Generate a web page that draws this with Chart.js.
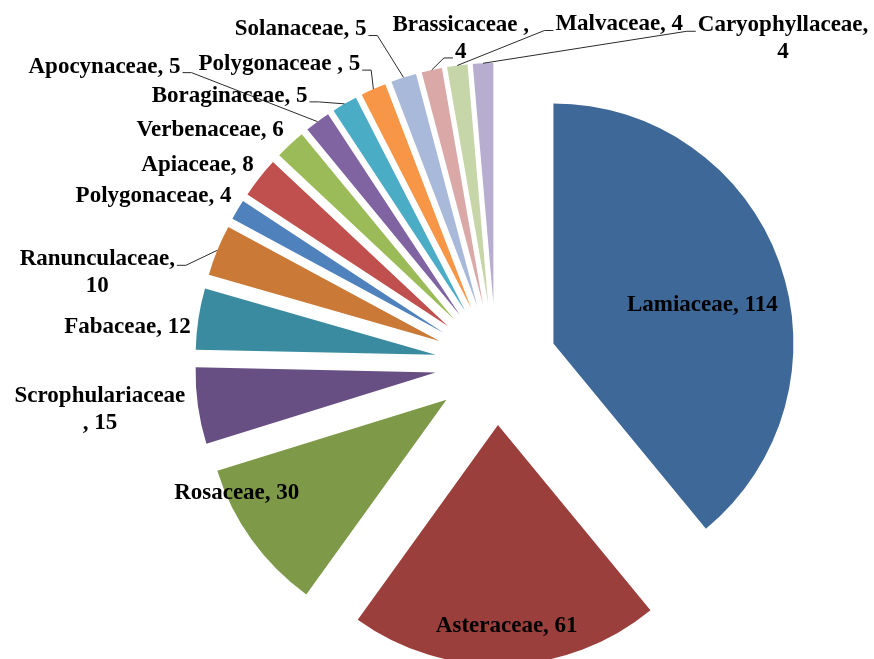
<!DOCTYPE html>
<html>
<head>
<meta charset="utf-8">
<title>Species per plant family</title>
<script src="https://cdn.jsdelivr.net/npm/chart.js@4.4.1/dist/chart.umd.min.js"></script>
<style>
  html, body { margin: 0; padding: 0; background: #ffffff; }
  canvas { display: block; }
</style>
</head>
<body>
<canvas id="chart" width="874" height="659"></canvas>
<script>
// Plant families, clockwise from 12 o'clock
const families = [
  'Lamiaceae', 'Asteraceae', 'Rosaceae', 'Scrophulariaceae', 'Fabaceae',
  'Ranunculaceae', 'Polygonaceae', 'Apiaceae', 'Verbenaceae', 'Apocynaceae',
  'Boraginaceae', 'Polygonaceae ', 'Solanaceae', 'Brassicaceae ', 'Malvaceae',
  'Caryophyllaceae'
];

// Number of species in each family
const speciesCounts = [114, 61, 30, 15, 12, 10, 4, 8, 6, 5, 5, 5, 5, 4, 4, 4];

// Office palette: dark shades, base colours, then light tints
const sliceColors = [
  '#3E6898', '#9B3F3D', '#7E9948', '#674F84', '#3B8BA0', '#CA7936',
  '#4F81BD', '#C0504D', '#9BBB59', '#8064A2', '#4BACC6', '#F79646',
  '#A9B9D9', '#D9A8A7', '#C6D6A9', '#B7ADCF'
];

// Distance every slice is pulled away from the centre (px)
const EXPLODE = 61;
const LABEL_FONT = 'bold 23px "Liberation Serif", "Times New Roman", serif';
const LINE_HEIGHT = 27;

// Label placement relative to the middle of each slice's outer arc.
// wrap: 'value' breaks before the count, 'name' breaks after the family name.
// leader: index of the text line a leader line attaches to.
const labelLayout = [
  { dx: -77,  dy: 43 },
  { dx: 1,    dy: -39 },
  { dx: -15,  dy: -47 },
  { dx: -98,  dy: -10, wrap: 'name' },
  { dx: -71,  dy: 8 },
  { dx: -120, dy: 9,   wrap: 'value', leader: 0 },
  { dx: -84,  dy: -14 },
  { dx: -62,  dy: -13 },
  { dx: -80,  dy: -14 },
  { dx: -213, dy: -55, leader: 0 },
  { dx: -115, dy: -8,  leader: 0 },
  { dx: -94,  dy: -25, leader: 0 },
  { dx: -103, dy: -48, leader: 0 },
  { dx: 29,   dy: -45, wrap: 'value', leader: 1 },
  { dx: 162,  dy: -41, leader: 0 },
  { dx: 300,  dy: -38, wrap: 'value', leader: 0 }
];

function labelLines(i, wrap) {
  const name = families[i];
  const value = String(speciesCounts[i]);
  if (wrap === 'value') return [(name + ',').trim(), value];
  if (wrap === 'name') return [name.trim(), ', ' + value];
  return [name + ', ' + value];
}

// Pull each slice outward along its bisector
const explodePlugin = {
  id: 'explodeSlices',
  beforeDatasetsDraw(chart) {
    const area = chart.chartArea;
    const cx = (area.left + area.right) / 2;
    const cy = (area.top + area.bottom) / 2;
    chart.getDatasetMeta(0).data.forEach(arc => {
      const mid = (arc.startAngle + arc.endAngle) / 2;
      arc.x = cx + EXPLODE * Math.cos(mid);
      arc.y = cy + EXPLODE * Math.sin(mid);
    });
  }
};

// "Family, count" labels with leader lines
const labelPlugin = {
  id: 'familyLabels',
  afterDatasetsDraw(chart) {
    const ctx = chart.ctx;
    const meta = chart.getDatasetMeta(0);
    ctx.save();
    ctx.font = LABEL_FONT;
    ctx.fillStyle = '#000000';
    ctx.strokeStyle = '#2b2b2b';
    ctx.lineWidth = 1;
    ctx.textAlign = 'center';
    ctx.textBaseline = 'middle';
    meta.data.forEach((arc, i) => {
      const mid = (arc.startAngle + arc.endAngle) / 2;
      const px = arc.x + arc.outerRadius * Math.cos(mid);
      const py = arc.y + arc.outerRadius * Math.sin(mid);
      const lay = labelLayout[i];
      const lines = labelLines(i, lay.wrap);
      const lx = px + lay.dx;
      const ly = py + lay.dy;
      lines.forEach((t, k) => ctx.fillText(t, lx, ly + k * LINE_HEIGHT));
      if (lay.leader !== undefined) {
        const k = lay.leader;
        const w = ctx.measureText(lines[k]).width;
        const dir = lx < px ? 1 : -1;
        const edge = lx + dir * w / 2;
        const yy = ly + k * LINE_HEIGHT + 6;
        ctx.beginPath();
        ctx.moveTo(edge + dir * 2, yy);
        ctx.lineTo(edge + dir * 11, yy);
        ctx.lineTo(px, py);
        ctx.stroke();
      }
    });
    ctx.restore();
  }
};

new Chart(document.getElementById('chart'), {
  type: 'pie',
  data: {
    labels: families,
    datasets: [{
      data: speciesCounts,
      backgroundColor: sliceColors,
      borderWidth: 0,
      hoverOffset: 0,
      clip: false
    }]
  },
  options: {
    responsive: false,
    animation: false,
    events: [],
    radius: 240,
    layout: { padding: { left: 118, top: 69, right: 0, bottom: 0 } },
    plugins: {
      legend: { display: false },
      tooltip: { enabled: false },
      title: { display: false }
    }
  },
  plugins: [explodePlugin, labelPlugin]
});
</script>
</body>
</html>
